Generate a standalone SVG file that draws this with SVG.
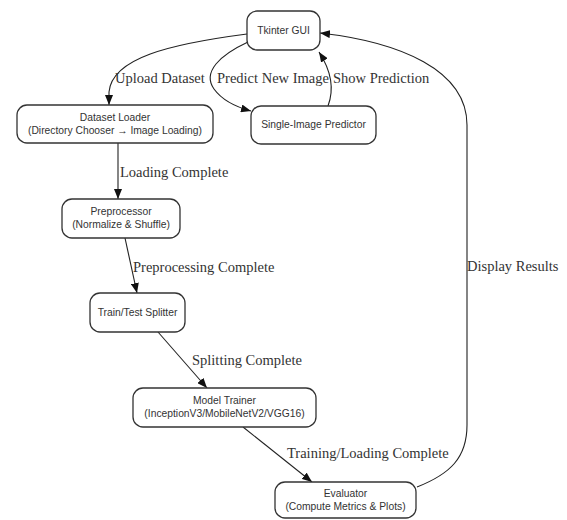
<svg xmlns="http://www.w3.org/2000/svg" width="567" height="520" viewBox="0 0 567 520">
<defs>
<marker id="ah" markerWidth="10" markerHeight="8" refX="10" refY="4" orient="auto" markerUnits="userSpaceOnUse">
<path d="M0,0 L10,4 L0,8 Z" fill="#111"/>
</marker>
<style>
.node rect{fill:#fff;stroke:#333;stroke-width:1.3}
.node text{font-family:"Liberation Sans",Arial,sans-serif;font-size:10.3px;fill:#333;text-anchor:middle}
.edges path{fill:none;stroke:#222;stroke-width:1.1;marker-end:url(#ah)}
.lbl{font-family:"Liberation Serif","Times New Roman",serif;font-size:14.5px;fill:#333}
</style>
</defs>
<rect width="567" height="520" fill="#fff"/>
<g class="edges">
<path d="M247,34 C170,44 112,58 109,92 L109,105"/>
<path d="M248,42 C220,55 202,72 214,89 C222,100 236,107 251,111"/>
<path d="M328,106 C334,90 332,72 319,52"/>
<path d="M118,143 L118,199"/>
<path d="M125,238 L137,293"/>
<path d="M158,332 L207,388"/>
<path d="M243,427 L312,482"/>
<path d="M417,487 C450,474 467,458 467,425 L467,125 C467,70 400,42 320,33"/>
</g>
<g class="labels">
<text class="lbl" x="115" y="83">Upload Dataset</text>
<text class="lbl" x="217" y="83">Predict New Image</text>
<text class="lbl" x="333" y="83">Show Prediction</text>
<text class="lbl" x="120" y="177">Loading Complete</text>
<text class="lbl" x="133" y="272">Preprocessing Complete</text>
<text class="lbl" x="192" y="365">Splitting Complete</text>
<text class="lbl" x="287" y="458">Training/Loading Complete</text>
<text class="lbl" x="467" y="271">Display Results</text>
</g>
<g id="tkinter-gui" class="node">
<rect x="247" y="11" width="73" height="39" rx="10"/>
<text x="283.5" y="34">Tkinter GUI</text>
</g>
<g id="dataset-loader" class="node">
<rect x="17" y="105" width="196" height="38" rx="10"/>
<text x="115" y="121">Dataset Loader</text>
<text x="115" y="134">(Directory Chooser → Image Loading)</text>
</g>
<g id="single-image-predictor" class="node">
<rect x="251" y="106" width="125" height="38" rx="10"/>
<text x="313.5" y="128">Single-Image Predictor</text>
</g>
<g id="preprocessor" class="node">
<rect x="62" y="199" width="118" height="39" rx="10"/>
<text x="121" y="215">Preprocessor</text>
<text x="121" y="228">(Normalize &amp; Shuffle)</text>
</g>
<g id="train-test-splitter" class="node">
<rect x="90" y="293" width="95" height="39" rx="10"/>
<text x="137.5" y="316">Train/Test Splitter</text>
</g>
<g id="model-trainer" class="node">
<rect x="133" y="388" width="183" height="39" rx="10"/>
<text x="224.5" y="404">Model Trainer</text>
<text x="224.5" y="417">(InceptionV3/MobileNetV2/VGG16)</text>
</g>
<g id="evaluator" class="node">
<rect x="275" y="482" width="141" height="36" rx="10"/>
<text x="345.5" y="497">Evaluator</text>
<text x="345.5" y="510">(Compute Metrics &amp; Plots)</text>
</g>
</svg>
